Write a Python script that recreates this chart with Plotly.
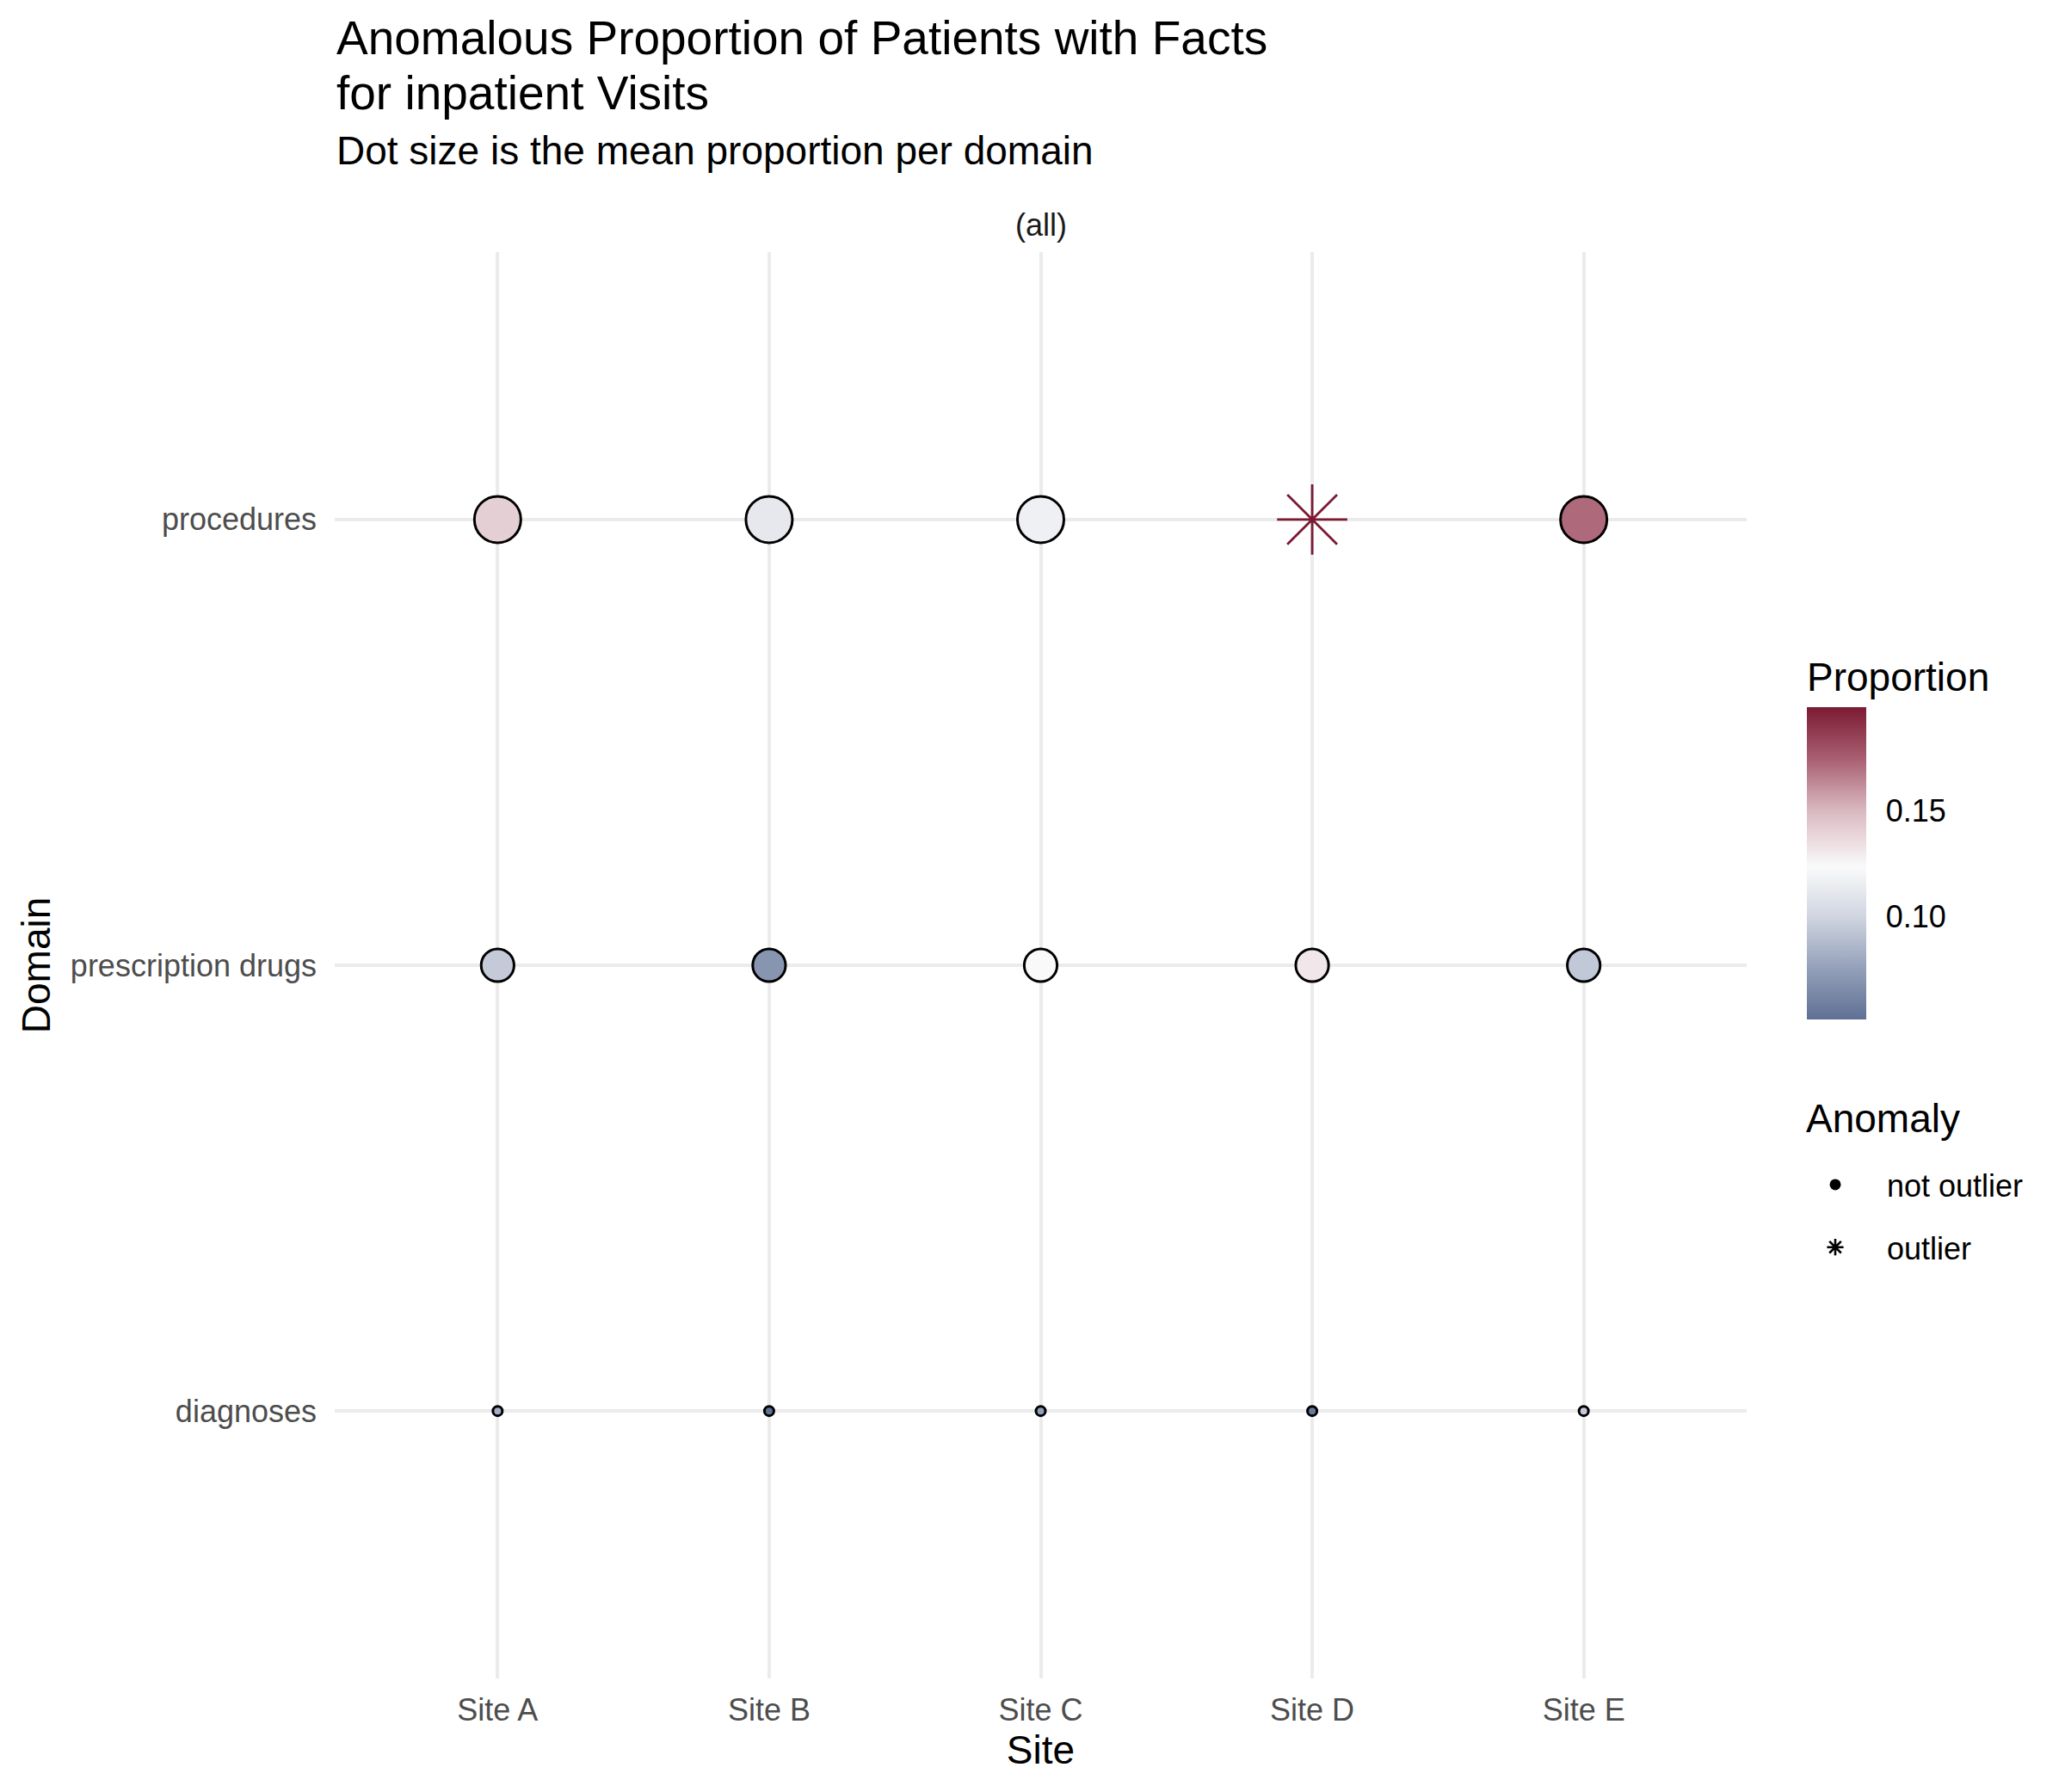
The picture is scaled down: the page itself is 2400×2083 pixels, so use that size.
import plotly.graph_objects as go

# ---- data ----
sites = ["Site A", "Site B", "Site C", "Site D", "Site E"]
domains = ["diagnoses", "prescription drugs", "procedures"]
prop_procedures = [0.141, 0.112, 0.117, 0.199, 0.172]
prop_prescription = [0.095, 0.070, 0.123, 0.131, 0.094]
prop_diagnoses = [0.082, 0.052, 0.075, 0.056, 0.095]
outlier_procedures = [False, False, False, True, False]
outlier_prescription = [False, False, False, False, False]
outlier_diagnoses = [False, False, False, False, False]
colorbar_ticks = [0.10, 0.15]

values = {
    "diagnoses": prop_diagnoses,
    "prescription drugs": prop_prescription,
    "procedures": prop_procedures,
}
outliers = {
    "diagnoses": outlier_diagnoses,
    "prescription drugs": outlier_prescription,
    "procedures": outlier_procedures,
}

# domain means -> dot size (area scale like ggplot scale_size)
means = {d: sum(v) / len(v) for d, v in values.items()}
mmin, mmax = min(means.values()), max(means.values())
SMIN, SMAX = 11, 54


def dot_size(m):
    t = (m - mmin) / (mmax - mmin)
    return SMIN + (SMAX - SMIN) * t ** 0.5


all_vals = prop_procedures + prop_prescription + prop_diagnoses
cmin, cmax = 0.0513, max(all_vals)

colorscale = [
    [0.0, "#5E7094"],
    [0.166, "#95A1BA"],
    [0.333, "#D1D6E1"],
    [0.488, "#FAFAFA"],
    [0.671, "#D9B8C0"],
    [0.835, "#A95F71"],
    [1.0, "#7B1A33"],
]

cx, cy, cc, cs = [], [], [], []
ox, oy, oc, osz = [], [], [], []
for d in domains:
    for s, v, o in zip(sites, values[d], outliers[d]):
        if o:
            ox.append(s); oy.append(d); oc.append(v); osz.append(dot_size(means[d]) * 1.26)
        else:
            cx.append(s); cy.append(d); cc.append(v); cs.append(dot_size(means[d]))

FONT = "Liberation Sans, Arial, Helvetica, sans-serif"

fig = go.Figure()
fig.add_trace(go.Scatter(
    x=cx, y=cy, mode="markers", showlegend=False,
    marker=dict(symbol="circle", size=cs, color=cc, coloraxis="coloraxis", opacity=1,
                line=dict(color="black", width=3)),
))
fig.add_trace(go.Scatter(
    x=ox, y=oy, mode="markers", showlegend=False,
    marker=dict(symbol="asterisk-open", size=osz, color="#7B1A33", opacity=1,
                line=dict(color="#7B1A33", width=2.8)),
))
# legend entries for Anomaly
fig.add_trace(go.Scatter(
    x=[None], y=[None], mode="markers", name="not outlier", legendgroup="a",
    marker=dict(symbol="circle", size=13, color="black", opacity=1, line=dict(width=0)),
))
fig.add_trace(go.Scatter(
    x=[None], y=[None], mode="markers", name="outlier", legendgroup="b",
    marker=dict(symbol="asterisk-open", size=16, color="black", opacity=1,
                line=dict(color="black", width=2.6)),
))

W, H = 2400, 2083
L, T = 381, 285
PW, PH = 1641, 1658
R = W - L - PW
B = H - T - PH


def py(px):
    return 1 - (px - T) / PH


def pxr(px):
    return (px - L) / PW


annos = [
    dict(text="Anomalous Proportion of Patients with Facts", x=0, xref="paper", xanchor="left",
         y=py(36), yref="paper", yanchor="middle", showarrow=False,
         font=dict(size=55, color="black", family=FONT)),
    dict(text="for inpatient Visits", x=0, xref="paper", xanchor="left",
         y=py(100), yref="paper", yanchor="middle", showarrow=False,
         font=dict(size=55, color="black", family=FONT)),
    dict(text="Dot size is the mean proportion per domain", x=0, xref="paper", xanchor="left",
         y=py(167), yref="paper", yanchor="middle", showarrow=False,
         font=dict(size=46, color="black", family=FONT)),
    dict(text="(all)", x=0.5, xref="paper", xanchor="center",
         y=py(254), yref="paper", yanchor="middle", showarrow=False,
         font=dict(size=36, color="#1A1A1A", family=FONT)),
    dict(text="Anomaly", x=pxr(2089), xref="paper", xanchor="left",
         y=py(1292), yref="paper", yanchor="middle", showarrow=False,
         font=dict(size=46, color="black", family=FONT)),
]

fig.update_layout(
    width=W, height=H,
    margin=dict(l=L, r=R, t=T, b=B, autoexpand=False),
    paper_bgcolor="white", plot_bgcolor="white",
    font=dict(family=FONT, color="black"),
    annotations=annos,
    coloraxis=dict(
        colorscale=colorscale, cmin=cmin, cmax=cmax,
        colorbar=dict(
            title=dict(text="Proportion", side="top", font=dict(size=46, color="black", family=FONT)),
            tickvals=colorbar_ticks, ticktext=["0.10", "0.15"],
            ticks="outside", tickcolor="rgba(0,0,0,0)", ticklen=16, tickwidth=2,
            tickfont=dict(size=36, color="black", family=FONT),
            thickness=69, thicknessmode="pixels",
            len=420, lenmode="pixels",
            x=pxr(2092), xanchor="left",
            y=py(757), yanchor="top",
            outlinewidth=0, xpad=0, ypad=0,
        ),
    ),
    legend=dict(
        font=dict(size=36, color="black", family=FONT),
        x=pxr(2065), xanchor="left",
        y=py(1339), yanchor="top",
        tracegroupgap=23, traceorder="grouped",
        itemwidth=110,
        bgcolor="rgba(0,0,0,0)",
    ),
    xaxis=dict(
        type="category", categoryorder="array", categoryarray=sites,
        range=[-0.6, 4.6], showgrid=True, gridcolor="#EBEBEB", gridwidth=4,
        zeroline=False, showline=False, ticks="",
        tickfont=dict(size=36, color="#4D4D4D", family=FONT),
        ticklabelstandoff=12,
        title=dict(text="Site", font=dict(size=46, color="black", family=FONT), standoff=10),
    ),
    yaxis=dict(
        type="category", categoryorder="array", categoryarray=domains,
        range=[-0.6, 2.6], showgrid=True, gridcolor="#EBEBEB", gridwidth=4,
        zeroline=False, showline=False, ticks="",
        tickfont=dict(size=36, color="#4D4D4D", family=FONT),
        ticklabelstandoff=20,
        title=dict(text="Domain", font=dict(size=46, color="black", family=FONT), standoff=8),
    ),
)

fig.write_html("out.html")
